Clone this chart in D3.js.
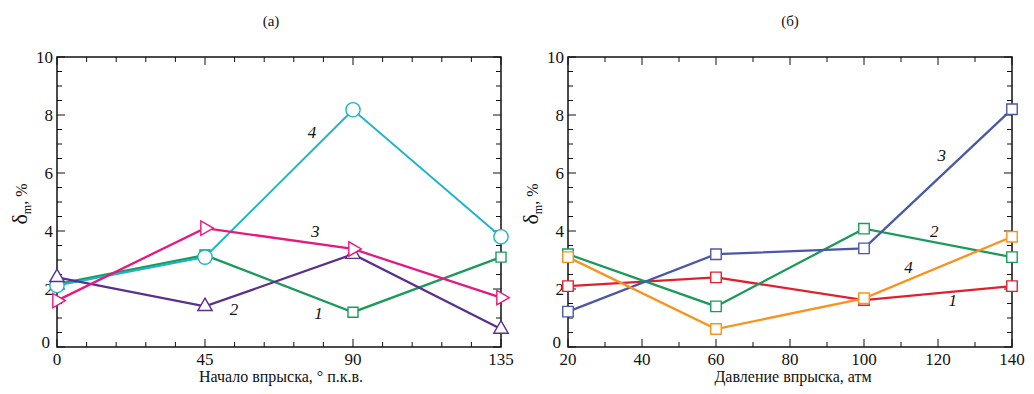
<!DOCTYPE html>
<html>
<head>
<meta charset="utf-8">
<script src="https://cdn.jsdelivr.net/npm/d3@7"></script>
<style>
  body { margin: 0; background: #fff; }
  svg text { font-family: "Liberation Serif", "DejaVu Serif", "Noto Serif", Tinos, "Times New Roman", serif; fill: #111; }
</style>
</head>
<body>
<svg id="chart" width="1034" height="394"></svg>
<script>
// panel (a): injection timing
const timingX = [0, 45, 90, 135];
const timingTicks = [0, 45, 90, 135];
const timing1 = [2.17, 3.17, 1.2, 3.1];
const timing2 = [2.4, 1.4, 3.2, 0.62];
const timing3 = [1.6, 4.1, 3.38, 1.7];
const timing4 = [2.12, 3.1, 8.18, 3.8];

// panel (б): injection pressure
const pressureX = [20, 60, 100, 140];
const pressureTicks = [20, 40, 60, 80, 100, 120, 140];
const pressure1 = [2.1, 2.4, 1.62, 2.1];
const pressure2 = [3.2, 1.4, 4.08, 3.1];
const pressure3 = [1.22, 3.2, 3.4, 8.2];
const pressure4 = [3.1, 0.62, 1.68, 3.8];

const yTicks = [0, 2, 4, 6, 8, 10];

const svg = d3.select("#chart");

function drawPanel(p) {
    const g = svg.append("g").attr("transform", "translate(" + p.left + "," + p.top + ")");
    const width = p.width, height = p.height;

    const xScale = d3.scaleLinear().domain(p.xDomain).range([0, width]);
    const yScale = d3.scaleLinear().domain([0, 10]).range([height, 0]);

    //Minor ticks on all four sides, pointing inwards
    const xMinor = d3.range(p.xDomain[0], p.xDomain[1] + 0.001, p.xMinorStep);
    const yMinor = d3.range(0, 10.001, 0.5);

    g.selectAll(".xMinorB").data(xMinor).join("line")
        .attr("x1", d => xScale(d)).attr("x2", d => xScale(d))
        .attr("y1", height).attr("y2", d => height - (p.xTicks.includes(d) ? 8 : 5))
        .attr("stroke", "#111").attr("stroke-width", 1);
    g.selectAll(".xMinorT").data(xMinor).join("line")
        .attr("x1", d => xScale(d)).attr("x2", d => xScale(d))
        .attr("y1", 0).attr("y2", d => (p.xTicks.includes(d) ? 8 : 5))
        .attr("stroke", "#111").attr("stroke-width", 1);
    g.selectAll(".yMinorL").data(yMinor).join("line")
        .attr("y1", d => yScale(d)).attr("y2", d => yScale(d))
        .attr("x1", 0).attr("x2", d => (d % 2 === 0 ? 8 : 5))
        .attr("stroke", "#111").attr("stroke-width", 1);
    g.selectAll(".yMinorR").data(yMinor).join("line")
        .attr("y1", d => yScale(d)).attr("y2", d => yScale(d))
        .attr("x1", width).attr("x2", d => width - (d % 2 === 0 ? 8 : 5))
        .attr("stroke", "#111").attr("stroke-width", 1);

    //Frame
    g.append("rect").attr("width", width).attr("height", height)
        .attr("fill", "none").attr("stroke", "#111").attr("stroke-width", 1.5);

    //Tick labels
    g.selectAll(".xLab").data(p.xTicks).join("text")
        .attr("x", d => xScale(d)).attr("y", height + 18)
        .attr("text-anchor", "middle").attr("font-size", 17)
        .text(d => d);
    g.selectAll(".yLab").data(yTicks).join("text")
        .attr("x", d => (d === 0 ? -7 : -4)).attr("y", d => yScale(d) + (d === 0 ? 1 : 6))
        .attr("text-anchor", "end").attr("font-size", 17)
        .text(d => d);

    //Axis titles
    g.append("text").attr("x", p.xTitleX).attr("y", height + 35)
        .attr("text-anchor", "middle").attr("font-size", 16)
        .text(p.xTitle);

    const yt = g.append("text")
        .attr("transform", "translate(" + (-30) + "," + (height / 2 + 2) + ") rotate(-90)")
        .attr("text-anchor", "middle").attr("font-size", 16);
    yt.append("tspan").attr("font-size", 22).text("δ");
    yt.append("tspan").attr("font-size", 12).attr("dy", 4).text("m");
    yt.append("tspan").attr("dy", -4).text(", %");

    //Panel title
    svg.append("text").attr("x", p.left + p.titleX).attr("y", 26)
        .attr("text-anchor", "middle").attr("font-size", 15)
        .text(p.title);

    const line = d3.line().x(d => xScale(d.x)).y(d => yScale(d.y));

    p.series.forEach(s => {
        const pts = p.xValues.map((x, i) => ({x: x, y: s.values[i]}));
        g.append("path").datum(pts)
            .attr("fill", "none").attr("stroke", s.color)
            .attr("stroke-width", s.lineWidth || 2.3).attr("d", line);
        g.selectAll(null).data(pts).join("path")
            .attr("transform", d => "translate(" + xScale(d.x) + "," + yScale(d.y) + ")" + (s.rotate ? " rotate(" + s.rotate + ")" : ""))
            .attr("d", d3.symbol().type(s.symbol).size(s.size))
            .attr("fill", "#fff").attr("stroke", s.color).attr("stroke-width", 1.4);
    });

    //Curve numbers
    p.labels.forEach(l => {
        g.append("text").attr("x", xScale(l.x)).attr("y", yScale(l.y))
            .attr("text-anchor", "middle").attr("font-size", 17)
            .attr("font-style", "italic").text(l.text);
    });
}

drawPanel({
    left: 57, top: 57, width: 444, height: 290,
    xDomain: [0, 135], xMinorStep: 9, xTicks: timingTicks, xValues: timingX,
    xTitle: "Начало впрыска, ° п.к.в.", xTitleX: 224,
    title: "(a)", titleX: 214,
    series: [
        {values: timing1, color: "#1d9a5b", symbol: d3.symbolSquare, size: 100},
        {values: timing4, color: "#1fb4c8", symbol: d3.symbolCircle, size: 160, lineWidth: 2},
        {values: timing2, color: "#5a2f8f", symbol: d3.symbolTriangle, size: 90},
        {values: timing3, color: "#e5197e", symbol: d3.symbolTriangle, size: 90, rotate: 90}
    ],
    labels: [
        {x: 77.5, y: 7.2, text: "4"},
        {x: 78.5, y: 3.8, text: "3"},
        {x: 53.8, y: 1.1, text: "2"},
        {x: 79.5, y: 0.98, text: "1"}
    ]
});

drawPanel({
    left: 568, top: 57, width: 444, height: 290,
    xDomain: [20, 140], xMinorStep: 10, xTicks: pressureTicks, xValues: pressureX,
    xTitle: "Давление впрыска, атм", xTitleX: 225,
    title: "(б)", titleX: 222,
    series: [
        {values: pressure1, color: "#e2202b", symbol: d3.symbolSquare, size: 110},
        {values: pressure2, color: "#1d9a5b", symbol: d3.symbolSquare, size: 110},
        {values: pressure3, color: "#4b58a6", symbol: d3.symbolSquare, size: 110},
        {values: pressure4, color: "#f7931e", symbol: d3.symbolSquare, size: 110}
    ],
    labels: [
        {x: 121, y: 6.4, text: "3"},
        {x: 119, y: 3.8, text: "2"},
        {x: 112, y: 2.55, text: "4"},
        {x: 124, y: 1.4, text: "1"}
    ]
});
</script>
</body>
</html>
